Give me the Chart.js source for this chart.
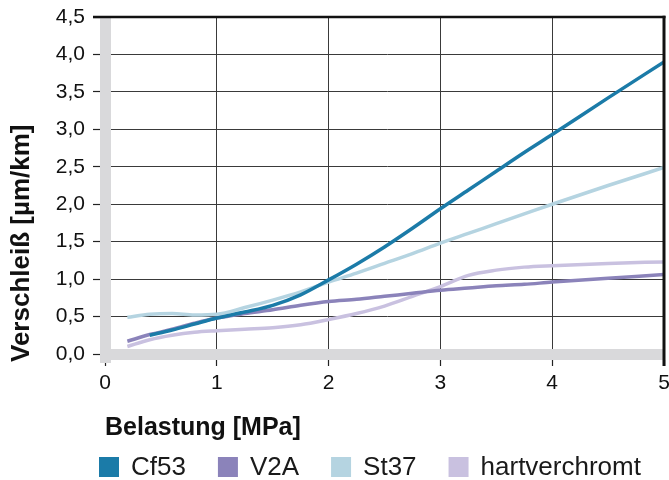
<!DOCTYPE html>
<html><head><meta charset="utf-8">
<script src="https://cdn.jsdelivr.net/npm/chart.js@4"></script>
<style>html,body{margin:0;padding:0;background:#fff}#wrap{width:669px;height:480px;position:relative}</style>
</head><body><div id="wrap"><canvas id="c" width="669" height="480"></canvas></div>
<script>
const loads = [0.2,0.4,0.6,0.8,1.0,1.25,1.5,1.75,2.0,2.25,2.5,2.75,3.0,3.25,3.5,3.75,4.0,4.5,5.0];
const seriesNames = ['Cf53','V2A','St37','hartverchromt'];
const cf53 = [null,0.25,0.32,0.40,0.48,0.56,0.65,0.79,0.99,1.20,1.43,1.68,1.94,2.19,2.44,2.69,2.93,3.42,3.90];
const v2a  = [0.17,0.26,0.33,0.41,0.48,0.54,0.59,0.65,0.70,0.73,0.77,0.81,0.85,0.88,0.91,0.93,0.96,1.01,1.06];
const st37 = [0.49,0.53,0.54,0.52,0.53,0.62,0.72,0.83,0.96,1.08,1.21,1.34,1.48,1.61,1.74,1.87,2.00,2.25,2.49];
const hart = [0.10,0.19,0.25,0.29,0.31,0.33,0.35,0.39,0.46,0.54,0.64,0.77,0.90,1.05,1.12,1.16,1.18,1.21,1.23];
const xTicks = [0,1,2,3,4,5];
const xTickLabels = ['0','1','2','3','4','5'];
const yTicks = [0,0.5,1,1.5,2,2.5,3,3.5,4,4.5];
const yTickLabels = ['0,0','0,5','1,0','1,5','2,0','2,5','3,0','3,5','4,0','4,5'];
const xTitle = 'Belastung [MPa]';
const yTitle = 'Verschleiß [µm/km]';
const colors = ['#1b7ba8','#8b83ba','#b5d4e1','#c9c1e0'];

const allSeries = [cf53, v2a, st37, hart];
const FONT = '"Liberation Sans", Arial, sans-serif';

const datasets = allSeries.map((vals, k) => ({
  label: seriesNames[k],
  data: loads.map((x, i) => ({x: x, y: vals[i]})).filter(p => p.y !== null),
  borderColor: colors[k],
  backgroundColor: colors[k],
  borderWidth: 3.5,
  pointRadius: 0,
  cubicInterpolationMode: 'monotone',
  fill: false
}));

const decor = {
  id: 'decor',
  afterLayout(chart) {
    // let the rotated axis title start a little below the plot bottom, as in the original
    chart.scales.y.bottom += 8;
  },
  afterDraw(chart) {
    const ctx = chart.ctx, xs = chart.scales.x, ys = chart.scales.y, ca = chart.chartArea;
    ctx.save();
    const yt = ys.getPixelForValue(yTicks[yTicks.length - 1]);
    // clear the bit of grey band above the top frame line
    ctx.fillStyle = '#fff';
    ctx.fillRect(ca.left - 7, 0, 14, yt);
    // top line
    ctx.strokeStyle = '#111';
    ctx.lineWidth = 2.5;
    ctx.beginPath(); ctx.moveTo(ca.left - 12, yt); ctx.lineTo(ca.right + 1.5, yt); ctx.stroke();
    // right line
    const xr = xs.getPixelForValue(xTicks[xTicks.length - 1]);
    ctx.lineWidth = 3;
    ctx.beginPath(); ctx.moveTo(xr, yt - 1.2); ctx.lineTo(xr, xs.top + 12); ctx.stroke();
    // legend
    ctx.font = '26px ' + FONT;
    ctx.textBaseline = 'middle';
    ctx.textAlign = 'left';
    let x = 99;
    const yMid = 467;
    chart.data.datasets.forEach(ds => {
      ctx.fillStyle = ds.borderColor;
      ctx.fillRect(x, yMid - 10, 20, 20);
      ctx.fillStyle = '#1a1a1a';
      ctx.fillText(ds.label, x + 32, yMid + 1);
      x += 32 + ctx.measureText(ds.label).width + 32;
    });
    ctx.restore();
  }
};

new Chart(document.getElementById('c'), {
  type: 'line',
  data: { datasets },
  plugins: [decor],
  options: {
    responsive: false,
    animation: false,
    devicePixelRatio: 1,
    layout: { padding: { top: 17, left: 0, right: 5, bottom: 0 } },
    plugins: { legend: { display: false }, tooltip: { enabled: false } },
    scales: {
      x: {
        type: 'linear', min: 0, max: 5,
        afterBuildTicks: s => { s.ticks = xTicks.map(v => ({value: v})); },
        ticks: {
          callback: v => xTickLabels[xTicks.indexOf(v)],
          font: { family: FONT, size: 21 }, color: '#111', padding: 5, maxRotation: 0
        },
        grid: {
          color: c => (c.tick && c.tick.value === 5) ? '#111' : '#3a3a3a',
          lineWidth: 1, tickLength: 12, tickColor: '#222', tickWidth: 1.2
        },
        border: { display: true, width: 11, color: '#d9d9db' },
        title: {
          display: true, text: xTitle, align: 'start', color: '#111',
          font: { family: FONT, size: 25, weight: 'bold' }, padding: { top: 0, bottom: 37 }
        },
        afterFit: s => { s.height = 126; s.paddingLeft = 0; s.paddingRight = 0; }
      },
      y: {
        type: 'linear', min: 0, max: 4.5,
        afterBuildTicks: s => { s.ticks = yTicks.map(v => ({value: v})); },
        ticks: {
          callback: v => yTickLabels[yTicks.indexOf(v)],
          font: { family: FONT, size: 21 }, color: '#111', padding: 8
        },
        grid: {
          color: c => (c.tick && c.tick.value === 4.5) ? '#111' : '#3a3a3a',
          lineWidth: 1, tickLength: 12, tickColor: '#222', tickWidth: 1.2
        },
        border: { display: true, width: 11, color: '#d9d9db' },
        title: {
          display: true, text: yTitle, align: 'start', color: '#111',
          font: { family: FONT, size: 26, weight: 'bold' }, padding: { top: 6, bottom: 0 }
        },
        afterFit: s => { s.width = 105; s.paddingTop = 0; s.paddingBottom = 0; }
      }
    }
  }
});
</script></body></html>
